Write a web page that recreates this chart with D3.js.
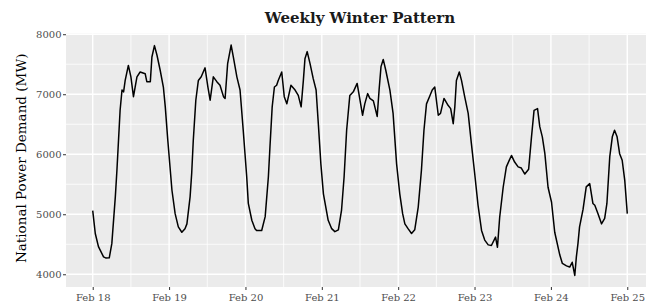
<!DOCTYPE html>
<html>
<head>
<meta charset="utf-8">
<script src="https://cdn.jsdelivr.net/npm/d3@7"></script>
<style>
  html, body { margin: 0; padding: 0; background: #fff; overflow: hidden; }
  svg { display: block; font-family: "DejaVu Serif", serif; }
</style>
</head>
<body>
<svg id="chart" width="646" height="306"></svg>
<script>
/***************************************************************
 * 1) DATA  (hour of the day, demand in MW)
 ***************************************************************/
const startDay = new Date(2019, 1, 18);   // Feb 18, 00:00
const dayLabels = ["Feb 18", "Feb 19", "Feb 20", "Feb 21", "Feb 22", "Feb 23", "Feb 24"];

const feb18 = [[0, 5060], [0.8, 4680], [1.8, 4460], [3.4, 4290], [4.2, 4270], [5.2, 4275],
  [6.0, 4510], [7.1, 5290], [7.6, 5730], [8.1, 6230], [8.6, 6730], [9.2, 7070], [9.7, 7040],
  [10.2, 7230], [11.2, 7480], [12.0, 7290], [12.8, 6960], [13.9, 7290], [14.9, 7370],
  [16.5, 7340], [17.0, 7210], [18.1, 7210], [18.6, 7620], [19.4, 7810], [20.2, 7650],
  [21.2, 7400], [22.2, 7120], [22.8, 6790], [23.6, 6230]];

const feb19 = [[0.9, 5400], [1.9, 5010], [2.9, 4790], [4.0, 4700], [5.0, 4760], [5.6, 4840],
  [6.6, 5290], [7.1, 5680], [7.6, 6230], [8.4, 6900], [9.2, 7230], [10.1, 7290], [11.3, 7440],
  [12.2, 7120], [12.9, 6900], [13.9, 7290], [15.0, 7210], [16.0, 7150], [17.1, 6960],
  [17.6, 6930], [18.4, 7510], [19.5, 7820], [20.2, 7620], [21.3, 7290], [22.3, 7070],
  [23.3, 6400]];

const feb20 = [[0.4, 5620], [0.9, 5180], [2.0, 4900], [3.0, 4760], [3.5, 4730], [5.1, 4730],
  [6.2, 4960], [7.2, 5620], [7.7, 6120], [8.4, 6790], [9.1, 7120], [9.8, 7150], [10.3, 7230],
  [11.4, 7370], [12.2, 6960], [13.0, 6840], [14.3, 7150], [15.6, 7070], [16.6, 6980],
  [17.5, 6790], [18.2, 7230], [18.7, 7590], [19.4, 7710], [20.3, 7510], [21.3, 7260],
  [22.2, 7070], [22.9, 6510], [23.7, 5840]];

const feb21 = [[0.5, 5340], [2.0, 4900], [3.1, 4760], [4.1, 4710], [5.2, 4740], [6.2, 5070],
  [7.0, 5620], [7.8, 6400], [8.8, 6980], [9.9, 7040], [11.1, 7180], [12.0, 6900], [12.8, 6650],
  [13.5, 6840], [14.4, 7010], [15.1, 6930], [16.2, 6890], [17.4, 6630], [18.0, 7070],
  [18.6, 7460], [19.3, 7580], [20.1, 7400], [21.4, 7070], [22.4, 6680], [23.5, 5840]];

const feb22 = [[0.5, 5340], [1.4, 5010], [2.1, 4840], [3.1, 4760], [4.2, 4680], [5.2, 4740],
  [6.3, 5120], [7.3, 5730], [8.1, 6400], [8.9, 6840], [10.0, 6980], [10.7, 7070], [11.5, 7120],
  [12.6, 6650], [13.3, 6680], [14.4, 6930], [15.5, 6830], [16.5, 6760], [17.3, 6510],
  [17.8, 6790], [18.3, 7230], [19.2, 7370], [19.9, 7230], [20.9, 6960], [22.0, 6680],
  [23.0, 6180]];

const feb23 = [[0.1, 5650], [1.1, 5150], [2.2, 4730], [3.2, 4570], [4.3, 4490], [5.3, 4480],
  [6.6, 4620], [7.2, 4450], [7.9, 4950], [9.0, 5450], [10.0, 5790], [11.6, 5980], [12.6, 5870],
  [13.7, 5790], [14.7, 5770], [15.8, 5670], [17.0, 5750], [17.9, 6290], [18.7, 6730],
  [19.8, 6760], [20.5, 6460], [21.3, 6290], [22.1, 6010], [23.1, 5450]];

const feb24 = [[0.2, 5200], [1.2, 4700], [2.8, 4320], [3.6, 4180], [4.9, 4140], [5.9, 4120],
  [6.7, 4200], [7.5, 3980], [8.0, 4290], [8.5, 4510], [9.0, 4790], [10.1, 5080], [11.1, 5456],
  [12.2, 5510], [13.2, 5180], [13.8, 5150], [14.8, 5010], [15.9, 4840], [16.9, 4930],
  [17.6, 5180], [18.5, 5960], [19.3, 6290], [20.0, 6400], [20.8, 6290], [21.6, 6010],
  [22.4, 5900], [23.2, 5570], [24.0, 5010]];

const yTicks = [4000, 5000, 6000, 7000, 8000];
const yMinor = [4500, 5500, 6500, 7500];

/***************************************************************
 * 2) SETUP
 ***************************************************************/
const days = [feb18, feb19, feb20, feb21, feb22, feb23, feb24];
const points = [];
days.forEach((day, i) => {
    day.forEach(([h, mw]) => {
        points.push({ date: new Date(startDay.getTime() + (i * 24 + h) * 3600e3), mw: mw });
    });
});

const panel = { left: 66, right: 654, top: 33.5, bottom: 287 };  // right edge runs off the crop

// ggplot-style 5% expansion on both scales
const xExt = d3.extent(points, d => d.date);
const xPad = (xExt[1] - xExt[0]) * 0.05;
const x = d3.scaleTime()
    .domain([new Date(+xExt[0] - xPad), new Date(+xExt[1] + xPad)])
    .range([panel.left, panel.right]);

const yExt = d3.extent(points, d => d.mw);
const yPad = (yExt[1] - yExt[0]) * 0.05;
const y = d3.scaleLinear()
    .domain([yExt[0] - yPad, yExt[1] + yPad])
    .range([panel.bottom, panel.top]);

const svg = d3.select("#chart");

/***************************************************************
 * 3) PANEL + GRID
 ***************************************************************/
svg.append("rect")
    .attr("x", panel.left)
    .attr("y", panel.top)
    .attr("width", panel.right - panel.left)
    .attr("height", panel.bottom - panel.top)
    .attr("fill", "#ebebeb");

const dayTicks = d3.timeDay.range(x.domain()[0], x.domain()[1]);
const noonTicks = dayTicks.map(d => d3.timeHour.offset(d, 12))
    .filter(d => d > x.domain()[0] && d < x.domain()[1]);

const grid = svg.append("g").attr("stroke", "#fff");

grid.selectAll(".vminor").data(noonTicks).join("line")
    .attr("x1", d => x(d)).attr("x2", d => x(d))
    .attr("y1", panel.top).attr("y2", panel.bottom)
    .attr("stroke-width", 0.8);

grid.selectAll(".hminor").data(yMinor).join("line")
    .attr("x1", panel.left).attr("x2", panel.right)
    .attr("y1", d => y(d)).attr("y2", d => y(d))
    .attr("stroke-width", 0.8);

grid.selectAll(".vmajor").data(dayTicks).join("line")
    .attr("x1", d => x(d)).attr("x2", d => x(d))
    .attr("y1", panel.top).attr("y2", panel.bottom)
    .attr("stroke-width", 1.4);

grid.selectAll(".hmajor").data(yTicks).join("line")
    .attr("x1", panel.left).attr("x2", panel.right)
    .attr("y1", d => y(d)).attr("y2", d => y(d))
    .attr("stroke-width", 1.4);

/***************************************************************
 * 4) LINE
 ***************************************************************/
const line = d3.line()
    .x(d => x(d.date))
    .y(d => y(d.mw));

svg.append("path")
    .datum(points)
    .attr("fill", "none")
    .attr("stroke", "#000")
    .attr("stroke-width", 1.5)
    .attr("stroke-linejoin", "round")
    .attr("d", line);

/***************************************************************
 * 5) AXES + TEXT
 ***************************************************************/
const xAxis = svg.append("g")
    .attr("transform", `translate(0,${panel.bottom})`)
    .call(d3.axisBottom(x)
        .ticks(d3.timeDay.every(1))
        .tickFormat(d3.timeFormat("%b %d"))
        .tickSize(3)
        .tickPadding(4));

const yAxis = svg.append("g")
    .attr("transform", `translate(${panel.left},0)`)
    .call(d3.axisLeft(y)
        .tickValues(yTicks)
        .tickFormat(d3.format("d"))
        .tickSize(3)
        .tickPadding(1.5));

[xAxis, yAxis].forEach(a => {
    a.select(".domain").remove();
    a.selectAll(".tick line").attr("stroke", "#333").attr("stroke-width", 1);
    a.selectAll(".tick text")
        .attr("fill", "#4d4d4d")
        .style("font-size", "10px")
        .style("font-family", "'DejaVu Serif', serif");
});

svg.append("text")
    .attr("x", (panel.left + panel.right) / 2)
    .attr("y", 23)
    .attr("text-anchor", "middle")
    .attr("fill", "#1a1a1a")
    .style("font-size", "15px")
    .style("font-weight", "bold")
    .text("Weekly Winter Pattern");

svg.append("text")
    .attr("transform", `translate(26,${(panel.top + panel.bottom) / 2 - 2}) rotate(-90)`)
    .attr("text-anchor", "middle")
    .attr("fill", "#000")
    .style("font-size", "13.5px")
    .text("National Power Demand (MW)");
</script>
</body>
</html>
